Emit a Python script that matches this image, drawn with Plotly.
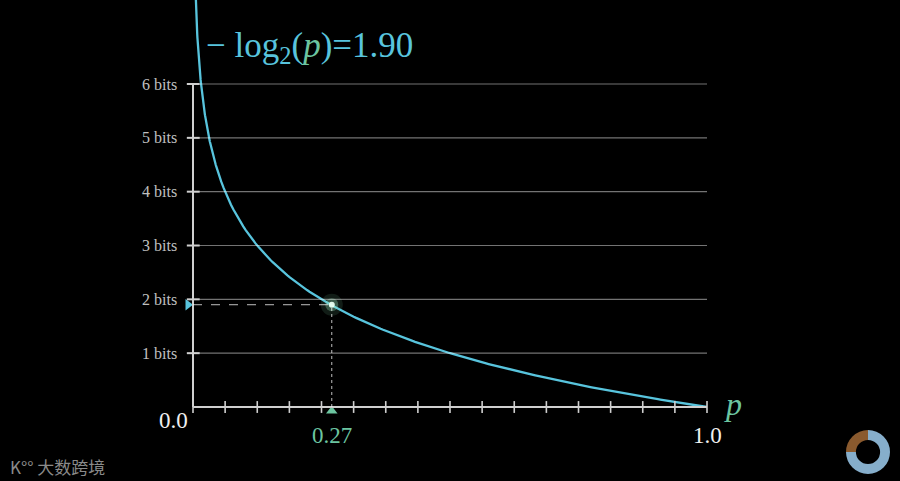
import numpy as np
import plotly.graph_objects as go

# ---- data ----
p_curve = np.concatenate([np.linspace(0.004, 0.05, 120), np.linspace(0.05, 1.0, 200)])
bits_curve = -np.log2(p_curve)          # plotted function: -log2(p)
y_ticks = [1, 2, 3, 4, 5, 6]
y_tick_labels = ["1 bits", "2 bits", "3 bits", "4 bits", "5 bits", "6 bits"]
x_ticks = [k / 16 for k in range(17)]
p_sel = 0.27
bits_sel = 1.90
ring_values = [75, 25]

BLUE = "#58C4DD"
GREEN = "#6CC5A0"
AXIS = "#cfcfcf"
GRID = "rgba(255,255,255,0.45)"
SERIF = "Liberation Serif, DejaVu Serif, serif"

fig = go.Figure()

shapes = []
for y in y_ticks:
    shapes.append(dict(type="line", x0=0, x1=1, y0=y, y1=y, line=dict(color=GRID, width=1.2)))
    shapes.append(dict(type="line", x0=-0.012, x1=0.013, y0=y, y1=y, line=dict(color=AXIS, width=2)))
shapes.append(dict(type="line", x0=0, x1=1, y0=0, y1=0, line=dict(color=AXIS, width=2)))
shapes.append(dict(type="line", x0=0, x1=0, y0=0, y1=6, line=dict(color=AXIS, width=2)))
for x in x_ticks:
    shapes.append(dict(type="line", x0=x, x1=x, y0=-0.11, y1=0.11, line=dict(color=AXIS, width=1.6)))
shapes.append(dict(type="line", x0=0, x1=p_sel, y0=bits_sel, y1=bits_sel,
                   line=dict(color="rgba(255,255,255,0.75)", width=1, dash="dash")))
shapes.append(dict(type="line", x0=p_sel, x1=p_sel, y0=0, y1=bits_sel,
                   line=dict(color="rgba(255,255,255,0.75)", width=1, dash="dot")))

fig.add_trace(go.Scatter(x=p_curve, y=bits_curve, mode="lines",
                         line=dict(color=BLUE, width=2.3), hoverinfo="skip"))
for s, op, col in [(22, 0.12, "#8fe3b8"), (13, 0.3, "#9ff0c4"), (6, 0.95, "#e8fff0")]:
    fig.add_trace(go.Scatter(x=[p_sel], y=[bits_sel], mode="markers",
                             marker=dict(size=s, color=col, opacity=op, line=dict(width=0)),
                             hoverinfo="skip"))
fig.add_trace(go.Scatter(x=[-0.0097], y=[bits_sel], mode="markers",
                         marker=dict(symbol="triangle-right", size=10, color=BLUE), hoverinfo="skip"))
fig.add_trace(go.Scatter(x=[p_sel], y=[-0.075], mode="markers",
                         marker=dict(symbol="triangle-up", size=10, color=GREEN), hoverinfo="skip"))

fig.add_trace(go.Pie(values=ring_values, marker=dict(colors=["#86aecb", "#8a5a2e"]),
                     hole=0.55, sort=False, direction="clockwise", rotation=0,
                     textinfo="none", hoverinfo="skip", showlegend=False,
                     domain=dict(x=[846 / 900, 890 / 900], y=[7 / 481, 51 / 481])))

ann = []
for y, t in zip(y_ticks, y_tick_labels):
    ann.append(dict(x=-0.028, y=y, text=t, xanchor="right", yanchor="middle", showarrow=False,
                    font=dict(family=SERIF, size=16, color="#c0c0c0")))
ann.append(dict(x=-0.037, y=-0.25, text="0.0", showarrow=False, xanchor="center", yanchor="middle",
                font=dict(family=SERIF, size=23, color="#f0f0f0")))
ann.append(dict(x=p_sel, y=-0.53, text="0.27", showarrow=False, xanchor="center", yanchor="middle",
                font=dict(family=SERIF, size=23, color=GREEN)))
ann.append(dict(x=1.0, y=-0.53, text="1.0", showarrow=False, xanchor="center", yanchor="middle",
                font=dict(family=SERIF, size=23, color="#f0f0f0")))
ann.append(dict(x=1.05, y=0.05, text="<i>p</i>", showarrow=False, xanchor="center", yanchor="middle",
                font=dict(family=SERIF, size=32, color=GREEN)))
ann.append(dict(x=0.022, y=6.68,
                text="− log<sub>2</sub>(<span style='color:%s'><i>p</i></span>)=1.90" % GREEN,
                showarrow=False, xanchor="left", yanchor="middle",
                font=dict(family=SERIF, size=35, color=BLUE)))
ann.append(dict(x=8 / 900, y=15 / 481, xref="paper", yref="paper", text="K°° 大数跨境",
                showarrow=False, xanchor="left", yanchor="middle",
                font=dict(family="Noto Sans CJK SC", size=17, color="#8a8a8a")))

fig.update_layout(
    width=900, height=481, margin=dict(l=0, r=0, t=0, b=0),
    paper_bgcolor="black", plot_bgcolor="black", showlegend=False,
    xaxis=dict(range=[-193 / 514, 707 / 514], visible=False, fixedrange=True),
    yaxis=dict(range=[-74 / 53.83, 407 / 53.83], visible=False, fixedrange=True),
    shapes=shapes, annotations=ann,
)
fig.write_html("out.html")
